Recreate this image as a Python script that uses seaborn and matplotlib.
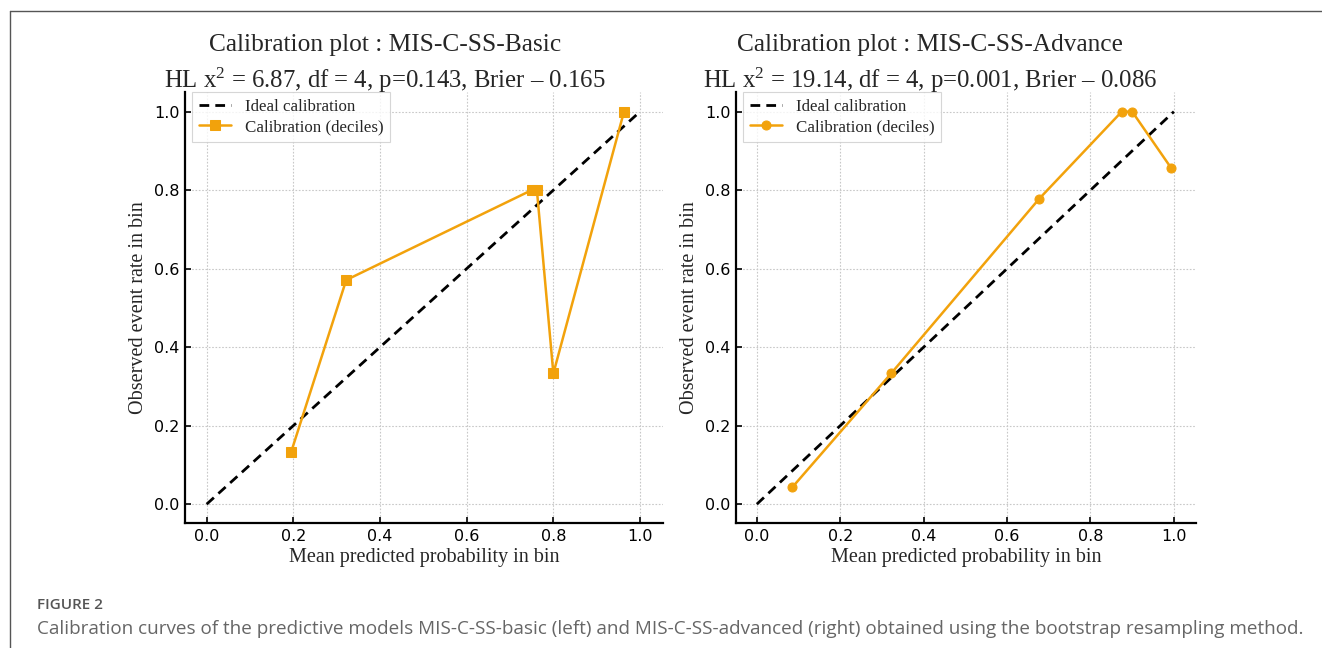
import matplotlib
matplotlib.use("Agg")
import matplotlib.pyplot as plt
from matplotlib.lines import Line2D
import seaborn as sns
import pandas as pd

# ---- data ----
basic_x = [0.195, 0.322, 0.750, 0.762, 0.800, 0.963]
basic_y = [0.133, 0.571, 0.800, 0.800, 0.333, 1.000]
adv_x = [0.085, 0.322, 0.677, 0.875, 0.900, 0.993]
adv_y = [0.043, 0.333, 0.778, 1.000, 1.000, 0.857]
ideal_x = [0.0, 1.0]
ideal_y = [0.0, 1.0]
ticks = [0.0, 0.2, 0.4, 0.6, 0.8, 1.0]
titles1 = ["Calibration plot : MIS-C-SS-Basic", "Calibration plot : MIS-C-SS-Advance"]
titles2 = ["HL $\\mathrm{x}^2$ = 6.87, df = 4, p=0.143, Brier \u2013 0.165",
           "HL $\\mathrm{x}^2$ = 19.14, df = 4, p=0.001, Brier \u2013 0.086"]
xlabel = "Mean predicted probability in bin"
ylabel = "Observed event rate in bin"
legend_labels = ["Ideal calibration", "Calibration (deciles)"]
fig_label = "FIGURE 2"
caption = ("Calibration curves of the predictive models MIS-C-SS-basic (left) and "
           "MIS-C-SS-advanced (right) obtained using the bootstrap resampling method.")

sns.set_theme(style="white")
plt.rcParams['font.family'] = ['DejaVu Sans']
plt.rcParams['mathtext.fontset'] = 'custom'
plt.rcParams['mathtext.rm'] = 'Liberation Serif'
plt.rcParams['mathtext.it'] = 'Liberation Serif:italic'
plt.rcParams['mathtext.bf'] = 'Liberation Serif:bold'

W, H = 1322, 648
fig = plt.figure(figsize=(W / 100, H / 100), dpi=100)
fig.patch.set_facecolor("white")

orange = "#F2A20C"
serif = "Liberation Serif"

panels = [
    dict(left=185, right=663, x=basic_x, y=basic_y, marker="s", t1=titles1[0], t2=titles2[0], tcx=385),
    dict(left=736, right=1196, x=adv_x, y=adv_y, marker="o", t1=titles1[1], t2=titles2[1], tcx=930),
]
top, bottom = 92, 523

for p in panels:
    aw = p["right"] - p["left"]
    ax = fig.add_axes([p["left"] / W, 1 - bottom / H, aw / W, (bottom - top) / H])
    ideal = pd.DataFrame({"x": ideal_x, "y": ideal_y})
    cal = pd.DataFrame({"x": p["x"], "y": p["y"]})
    sns.lineplot(data=ideal, x="x", y="y", ax=ax, color="black", linestyle=(0, (3.5, 2.2)),
                 linewidth=2.0, label=legend_labels[0], sort=False, estimator=None)
    sns.lineplot(data=cal, x="x", y="y", ax=ax, color=orange, marker=p["marker"], markersize=6.5,
                 markeredgecolor=orange, linewidth=1.8, label=legend_labels[1], sort=False, estimator=None)
    ax.set_xlim(-0.05, 1.053)
    ax.set_ylim(-0.048, 1.05)
    ax.set_xticks(ticks)
    ax.set_yticks(ticks)
    ax.set_xticklabels([f"{t:.1f}" for t in ticks])
    ax.set_yticklabels([f"{t:.1f}" for t in ticks])
    ax.tick_params(direction="in", length=4, width=1.2, labelsize=11.5, pad=4, colors="black",
                   left=True, bottom=True)
    ax.grid(True, linestyle=(0, (1.5, 1.5)), color="#c8c8c8", linewidth=0.8)
    for s in ["top", "right"]:
        ax.spines[s].set_visible(False)
    for s in ["left", "bottom"]:
        ax.spines[s].set_color("black")
        ax.spines[s].set_linewidth(1.6)
    ax.set_xlabel(xlabel, family=serif, fontsize=14.5, labelpad=3)
    ax.set_ylabel(ylabel, family=serif, fontsize=14.5, labelpad=4.5)
    leg = ax.legend(loc="upper left", bbox_to_anchor=(7 / aw, 1.0), borderaxespad=0.0,
                    prop={"family": serif, "size": 12.2}, frameon=True,
                    handlelength=1.9, labelspacing=0.25, borderpad=0.4,
                    fancybox=False, handletextpad=0.8)
    leg.get_frame().set_edgecolor("#cccccc")
    leg.get_frame().set_linewidth(0.8)
    fig.text(p["tcx"] / W, 1 - 45 / H, p["t1"], family=serif, fontsize=18.3, ha="center", va="center")
    fig.text(p["tcx"] / W, 1 - 80 / H, p["t2"], family=serif, fontsize=17.8, ha="center", va="center")

# frame lines of the figure panel
fig.add_artist(Line2D([10 / W, 10 / W], [0, 1 - 11 / H], color="#555555", linewidth=1.0))
fig.add_artist(Line2D([10 / W, 1.0], [1 - 11 / H, 1 - 11 / H], color="#555555", linewidth=1.0))

fig.text(37 / W, 1 - 605 / H, fig_label, family="Open Sans", fontweight="semibold", fontsize=11,
         color="#555555", ha="left", va="center")
fig.text(37 / W, 1 - 629 / H, caption, family="Open Sans", fontsize=13.6, color="#666666",
         ha="left", va="center")

fig.savefig("out.png", dpi=100, facecolor="white")
